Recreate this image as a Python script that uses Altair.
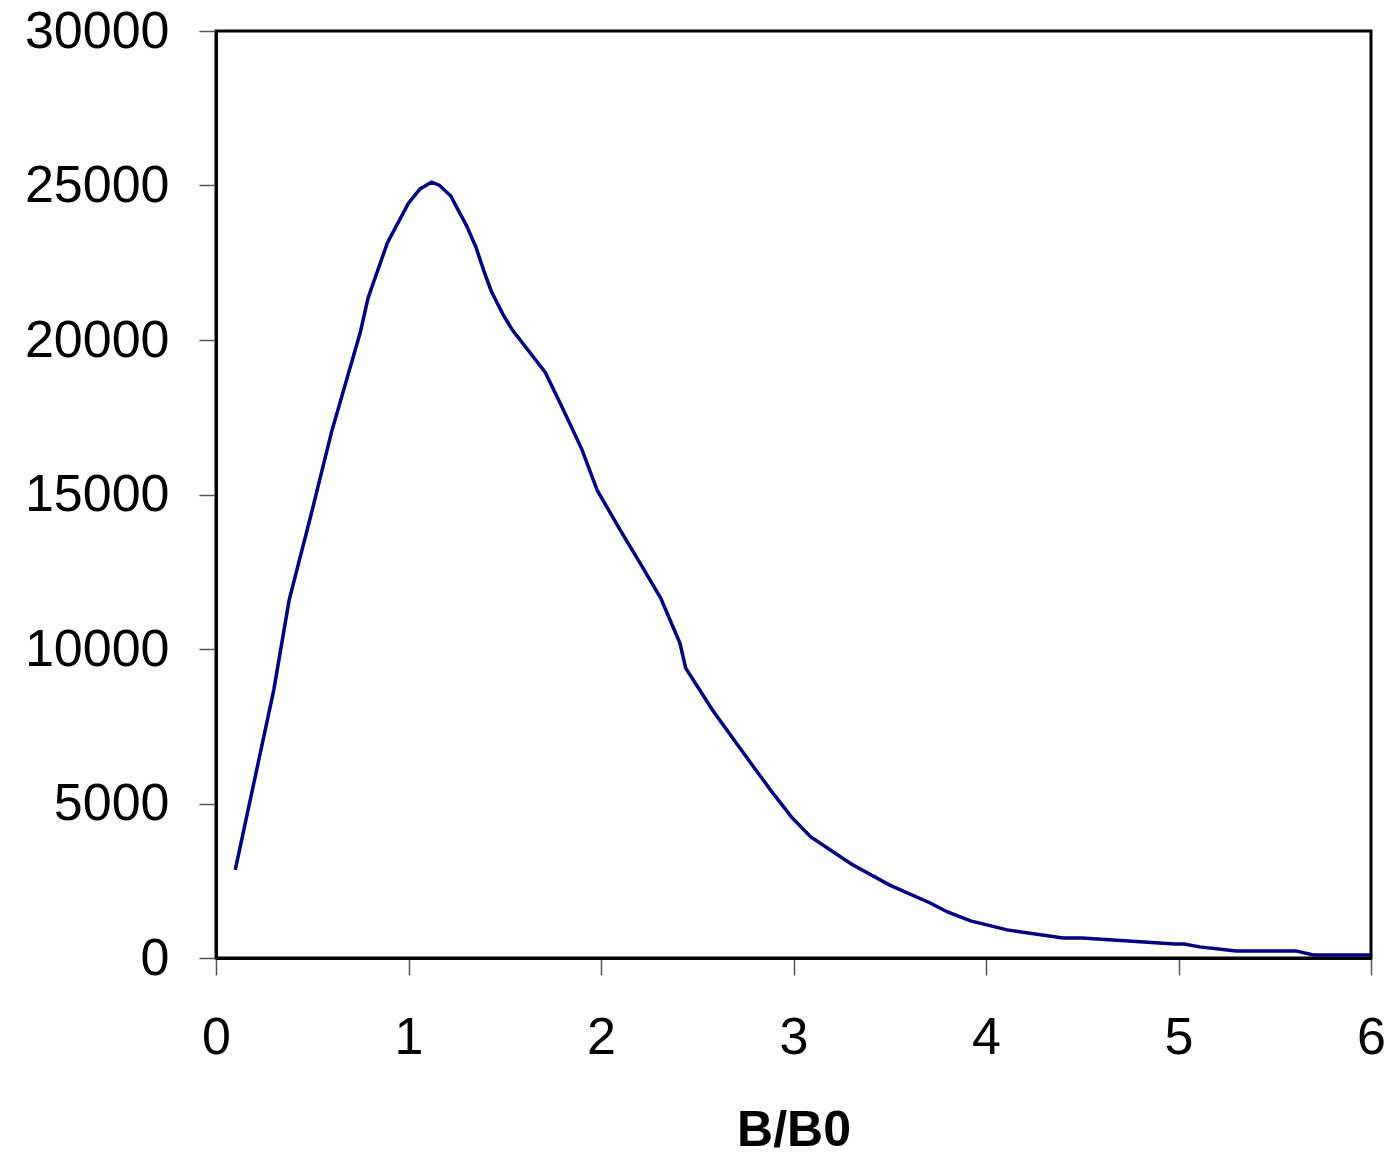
import altair as alt
import pandas as pd

# B/B0 values and counts
x_vals = [0.10, 0.30, 0.38, 0.50, 0.60, 0.75, 0.79, 0.89, 1.00, 1.06,
          1.12, 1.16, 1.22, 1.25, 1.30, 1.35, 1.39, 1.43, 1.49, 1.54,
          1.71, 1.80, 1.90, 1.98, 2.10, 2.20, 2.31, 2.41, 2.44, 2.58,
          2.71, 2.88, 2.99, 3.09, 3.30, 3.50, 3.71, 3.80, 3.92, 4.11,
          4.40, 4.50, 4.98, 5.03, 5.11, 5.30, 5.61, 5.70, 6.00]
y_vals = [2850, 8670, 11580, 14500, 17020, 20260, 21360, 23140, 24430, 24890,
          25110, 25010, 24660, 24300, 23720, 23010, 22260, 21580, 20840, 20320,
          18960, 17800, 16470, 15140, 13850, 12810, 11650, 10190, 9380, 8020,
          6890, 5440, 4560, 3920, 3040, 2360, 1780, 1490, 1200, 910,
          650, 650, 450, 450, 360, 230, 230, 100, 100]

df = pd.DataFrame({"x": x_vals, "y": y_vals})

chart = alt.Chart(df).mark_line(color="#000080", strokeWidth=3.5, clip=False).encode(
    x=alt.X("x:Q", title="B/B0",
            scale=alt.Scale(domain=[0, 6], nice=False, zero=True),
            axis=alt.Axis(values=[0, 1, 2, 3, 4, 5, 6], format="d", grid=False,
                          tickSize=17, labelPadding=37,
                          titlePadding=42, titleFontWeight="bold", titleFontSize=50)),
    y=alt.Y("y:Q", title=None,
            scale=alt.Scale(domain=[0, 30000], nice=False),
            axis=alt.Axis(values=[0, 5000, 10000, 15000, 20000, 25000, 30000],
                          format="d", grid=False, tickSize=17, labelPadding=30)),
).properties(
    width=1155, height=927,
    background="white",
    autosize=alt.AutoSizeParams(type="none"),
    padding={"left": 216, "top": 31, "right": 20, "bottom": 197},
).configure_view(
    stroke="black", strokeWidth=3
).configure_axis(
    domainColor="black", domainWidth=3,
    tickColor="#555555", tickWidth=1.5,
    labelFont="Liberation Sans", labelFontSize=52, labelColor="black",
    titleFont="Liberation Sans", titleColor="black",
    labelFlush=False, labelOverlap=False,
)

chart.save("out.html", embed_options={"renderer": "svg", "actions": False})
